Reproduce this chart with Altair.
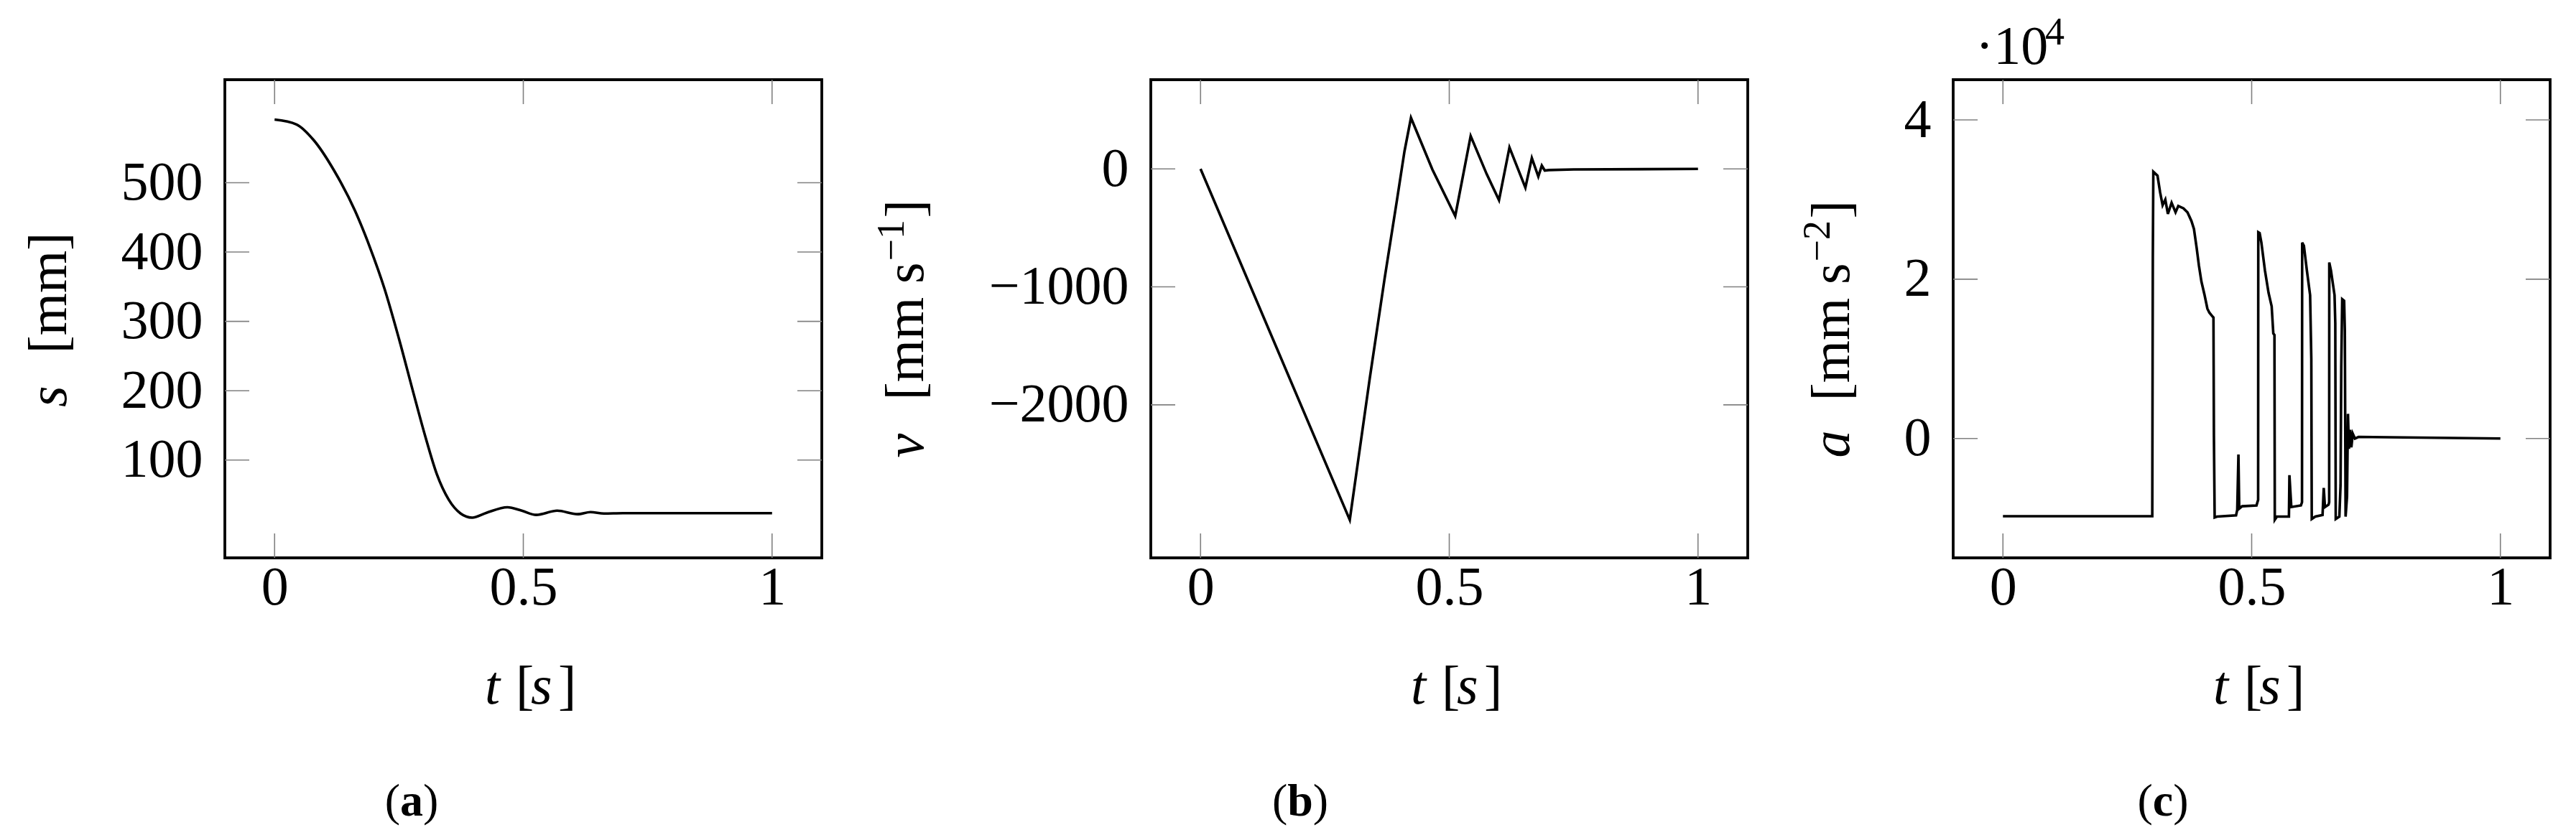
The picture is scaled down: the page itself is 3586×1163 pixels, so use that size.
import altair as alt
import pandas as pd

# ---------------- data ----------------
# (a) position s [mm] over time t [s]
T_S = [0.0, 0.044, 0.079, 0.12, 0.162, 0.191, 0.221, 0.25, 0.279, 0.303, 0.326, 0.35,
       0.374, 0.397, 0.426, 0.468, 0.497, 0.526, 0.568, 0.609, 0.635, 0.662, 0.70, 1.0]
S_MM = [591, 584, 561, 517, 459, 408, 347, 275, 197, 134, 80, 43,
        23, 17, 24, 32, 27, 21, 27, 22, 25, 23, 23.5, 23.5]

# (b) velocity v [mm s^-1]
T_V = [0.0, 0.300, 0.340, 0.370, 0.395, 0.410, 0.423, 0.466, 0.512, 0.543, 0.575, 0.600,
       0.621, 0.653, 0.666, 0.679, 0.686, 0.692, 0.700, 0.750, 1.0]
V_MMS = [0, -2975, -1780, -930, -260, 150, 433, -5, -400, 279, -42, -265,
         182, -159, 92, -64, 28, -14, -10, -5, 0]

# (c) acceleration a [mm s^-2], in units of 10^4
T_A = [0.0, 0.3002, 0.3013, 0.3023, 0.3107, 0.316, 0.321, 0.3264, 0.3316, 0.339,
       0.347, 0.3525, 0.363, 0.371, 0.379, 0.384, 0.3895, 0.394, 0.399, 0.405,
       0.411, 0.415, 0.4216, 0.4232, 0.4241, 0.4256, 0.4304, 0.4686, 0.471, 0.4734,
       0.475, 0.4808, 0.5097, 0.513, 0.5133, 0.516, 0.5195, 0.5267, 0.5339, 0.5402,
       0.5435, 0.5458, 0.5465, 0.5508, 0.5749, 0.5759, 0.5797, 0.599, 0.6012, 0.6015,
       0.605, 0.611, 0.6175, 0.6199, 0.6208, 0.628, 0.6425, 0.6449, 0.6473, 0.6545,
       0.6558, 0.656, 0.6594, 0.6666, 0.6681, 0.669, 0.6763, 0.6787, 0.6801, 0.682,
       0.6859, 0.6873, 0.6888, 0.6917, 0.6936, 0.6955, 0.698, 0.7004, 0.7033, 0.7076,
       0.7148, 1.0]
A_E4 = [-0.975, -0.975, 2.27, 3.35, 3.30, 3.09, 2.93, 3.00, 2.82, 2.96,
        2.84, 2.92, 2.89, 2.84, 2.73, 2.63, 2.39, 2.17, 1.97, 1.81,
        1.63, 1.58, 1.53, 1.52, 0.04, -0.99, -0.98, -0.965, -0.895, -0.20,
        -0.88, -0.85, -0.84, -0.77, 2.59, 2.58, 2.46, 2.11, 1.83, 1.66,
        1.32, 1.30, -1.02, -0.98, -0.98, -0.46, -0.86, -0.84, -0.80, 2.46,
        2.42, 2.11, 1.80, 1.00, -1.01, -0.98, -0.96, -0.62, -0.86, -0.83,
        -0.80, 2.21, 2.11, 1.80, 1.45, -1.01, -0.98, -0.58, 0.90, 1.75,
        1.73, 1.35, -0.98, -0.73, 0.31, -0.13, 0.11, -0.11, 0.06, 0.0,
        0.02, 0.0]

X_TICKS = [0, 0.5, 1]
S_TICKS = [100, 200, 300, 400, 500]
V_TICKS = [-2000, -1000, 0]
A_TICKS = [0, 2, 4]

X_DOMAIN = [-0.1, 1.1]
S_DOMAIN = [-41, 648.5]
V_DOMAIN = [-3297, 756]
A_DOMAIN = [-1.498, 4.505]

# ---------------- style ----------------
W, H = 831, 666
FONT = "Liberation Serif"
FS = 76
SUP_FS = 54
SUP_RAISE = 27
CAP_FS = 64
TICK_LEN = 34
TICK_COLOR = "#808080"


def txt(s, x, y, size=FS, **kw):
    return alt.Chart(pd.DataFrame({"txt": [s]})).mark_text(
        font=FONT, fontSize=size, color="black", **kw
    ).encode(x=alt.value(x), y=alt.value(y), text="txt:N")


def vtxt(s, x, y, size=FS, **kw):
    # rotated text reading bottom-to-top, starting at screen y
    return txt(s, x, y, size=size, angle=270, align="left", baseline="alphabetic", **kw)


def panel(df, ycol, ydom, yticks, sym, unit, unit_sup, letter, title_x, sym_y, unit_y,
          cap_x, interp, show_exp):
    xs = alt.Scale(domain=X_DOMAIN, nice=False, zero=False)
    ys = alt.Scale(domain=ydom, nice=False, zero=False)
    xax = alt.Axis(values=X_TICKS, format="~g", title=None, domain=False, ticks=False,
                   grid=False, labelFont=FONT, labelFontSize=FS, labelColor="black",
                   labelPadding=4, labelFlush=False, labelOverlap=False, labelLimit=1000)
    yax = alt.Axis(values=yticks, format="d", title=None, domain=False, ticks=False,
                   grid=False, labelFont=FONT, labelFontSize=FS, labelColor="black",
                   labelPadding=31, labelFlush=False, labelOverlap=False, labelLimit=1000)
    xe = alt.X("t:Q", scale=xs, axis=xax)
    ye = alt.Y(f"{ycol}:Q", scale=ys, axis=yax)

    xt = pd.DataFrame({"t": X_TICKS})
    yt = pd.DataFrame({ycol: yticks})
    rule = dict(color=TICK_COLOR, strokeWidth=1.6)
    t_top = alt.Chart(xt).mark_rule(**rule).encode(x=xe, y=alt.value(0), y2=alt.value(TICK_LEN))
    t_bot = alt.Chart(xt).mark_rule(**rule).encode(x=xe, y=alt.value(H - TICK_LEN), y2=alt.value(H))
    t_lft = alt.Chart(yt).mark_rule(**rule).encode(y=ye, x=alt.value(0), x2=alt.value(TICK_LEN))
    t_rgt = alt.Chart(yt).mark_rule(**rule).encode(y=ye, x=alt.value(W - TICK_LEN), x2=alt.value(W))

    line = alt.Chart(df).mark_line(color="black", strokeWidth=3.6,
                                   interpolate=interp).encode(x=xe, y=ye)

    layers = [t_top, t_bot, t_lft, t_rgt, line]
    # y-axis title: italic symbol + upright unit (with raised exponent), rotated
    layers.append(vtxt(sym, title_x, sym_y, fontStyle="italic"))
    if unit_sup:
        base_len = 194  # "[mm s" at FS
        sup_len = 60    # "−1" at SUP_FS
        layers.append(vtxt("[mm s", title_x, unit_y))
        layers.append(vtxt(unit_sup, title_x - SUP_RAISE, unit_y - base_len, size=SUP_FS))
        layers.append(vtxt("]", title_x, unit_y - base_len - sup_len))
    else:
        layers.append(vtxt(unit, title_x, unit_y))
    # x-axis title  t [s]  (italic symbols, upright brackets)
    xb = 869
    layers.append(txt("t", 362, xb, align="left", baseline="alphabetic", fontStyle="italic"))
    layers.append(txt("[", 405, xb, align="left", baseline="alphabetic"))
    layers.append(txt("s", 426, xb, align="left", baseline="alphabetic", fontStyle="italic"))
    layers.append(txt("]", 464, xb, align="left", baseline="alphabetic"))
    # exponent marker (invisible on a and b to keep panels aligned)
    op = 1 if show_exp else 0
    layers.append(txt("\u00b710", 31, -22.5, align="left", baseline="alphabetic", opacity=op))
    layers.append(txt("4", 128, -22.5 - SUP_RAISE, size=SUP_FS, align="left",
                      baseline="alphabetic", opacity=op))
    # sub-figure caption "(x)" with bold letter
    lw = {"a": 32, "b": 35.6, "c": 28.4}[letter]
    layers.append(txt("(", cap_x - lw / 2, 1025, size=CAP_FS, align="right", baseline="alphabetic"))
    layers.append(txt(letter, cap_x, 1025, size=CAP_FS, align="center", baseline="alphabetic",
                      fontWeight="bold"))
    layers.append(txt(")", cap_x + lw / 2, 1025, size=CAP_FS, align="left", baseline="alphabetic"))

    return alt.layer(*layers).properties(width=W, height=H)


df_s = pd.DataFrame({"t": T_S, "s": S_MM})
df_v = pd.DataFrame({"t": T_V, "v": V_MMS})
df_a = pd.DataFrame({"t": T_A, "a": A_E4})

pa = panel(df_s, "s", S_DOMAIN, S_TICKS, "s", "[mm]", None, "a",
           -221, 456, 381.5, 260, "monotone", False)
pb = panel(df_v, "v", V_DOMAIN, V_TICKS, "v", None, "\u22121", "b",
           -317, 526.5, 446.5, 208, "linear", False)
pc = panel(df_a, "a", A_DOMAIN, A_TICKS, "a", None, "\u22122", "c",
           -145, 526.5, 447.5, 292, "linear", True)

chart = alt.hconcat(pa, pb, pc, spacing=66).properties(
    padding={"left": 21, "top": 8, "right": 5, "bottom": 0},
    background="white",
).configure_view(stroke="black", strokeWidth=3.8)

chart.save("out.html", embed_options={"renderer": "svg", "actions": False})
